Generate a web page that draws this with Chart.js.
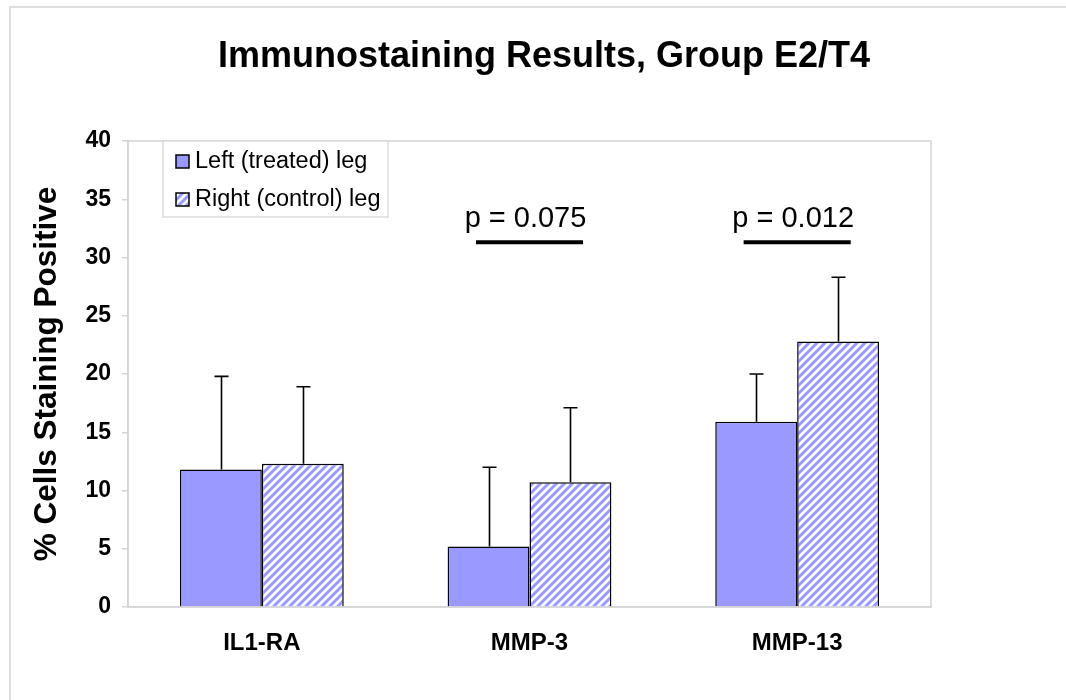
<!DOCTYPE html>
<html>
<head>
<meta charset="utf-8">
<script src="https://cdn.jsdelivr.net/npm/chart.js@4.4.1/dist/chart.umd.min.js"></script>
<style>
  html, body { margin: 0; padding: 0; background: #ffffff; }
  #wrap { width: 1066px; height: 700px; position: relative; }
</style>
</head>
<body>
<div id="wrap"><canvas id="c" width="1066" height="700"></canvas></div>
<script>
// ---- data ----
const categories = ['IL1-RA', 'MMP-3', 'MMP-13'];
const seriesNames = ['Left (treated) leg', 'Right (control) leg'];
const leftValues = [11.8, 5.2, 15.9];
const leftErrors = [8.0, 6.8, 4.1];
const rightValues = [12.3, 10.7, 22.8];
const rightErrors = [6.6, 6.4, 5.5];
const yTicks = [0, 5, 10, 15, 20, 25, 30, 35, 40];
const pLabels = ['', 'p = 0.075', 'p = 0.012'];
const pLineValue = 31.3;
const pTextValue = 33.3;
const titleText = 'Immunostaining Results, Group E2/T4';
const yTitleText = '% Cells Staining Positive';

// ---- styles ----
const BAR_BLUE = '#9999ff';
const FRAME_GRAY = '#d4d4d4';

function makeHatch() {
  const s = 8;
  const c = document.createElement('canvas');
  c.width = s; c.height = s;
  const g = c.getContext('2d');
  g.fillStyle = '#ffffff';
  g.fillRect(0, 0, s, s);
  g.strokeStyle = BAR_BLUE;
  g.lineWidth = 3.0;
  g.beginPath();
  g.moveTo(-s, 2 * s); g.lineTo(2 * s, -s);
  g.moveTo(-2 * s, 2 * s); g.lineTo(s, -s);
  g.moveTo(0, 2 * s); g.lineTo(3 * s, -s);
  g.stroke();
  return document.getElementById('c').getContext('2d').createPattern(c, 'repeat');
}
const hatch = makeHatch();

const errorSets = [leftErrors, rightErrors];

const decorPlugin = {
  id: 'decor',
  beforeDraw(chart) {
    const ctx = chart.ctx;
    ctx.save();
    ctx.fillStyle = '#ffffff';
    ctx.fillRect(0, 0, chart.width, chart.height);
    // outer slide frame
    ctx.strokeStyle = FRAME_GRAY;
    ctx.lineWidth = 1.5;
    ctx.beginPath();
    ctx.moveTo(10, chart.height);
    ctx.lineTo(10, 7);
    ctx.lineTo(chart.width, 7);
    ctx.stroke();
    // title
    ctx.fillStyle = '#000000';
    ctx.font = 'bold 36px "Liberation Sans", Arial, sans-serif';
    ctx.textAlign = 'center';
    ctx.textBaseline = 'middle';
    ctx.fillText(titleText, 544, 57);
    ctx.restore();
  },
  beforeDatasetsDraw(chart) {
    const a = chart.chartArea;
    const ctx = chart.ctx;
    ctx.save();
    ctx.strokeStyle = FRAME_GRAY;
    ctx.lineWidth = 1.5;
    ctx.strokeRect(a.left, a.top, a.right - a.left, a.bottom - a.top);
    ctx.restore();
  },
  afterDatasetsDraw(chart) {
    const ctx = chart.ctx;
    const y = chart.scales.y;
    const x = chart.scales.x;
    ctx.save();
    // error bars (upper only)
    ctx.strokeStyle = '#000000';
    ctx.lineWidth = 1.6;
    chart.data.datasets.forEach((ds, di) => {
      const meta = chart.getDatasetMeta(di);
      meta.data.forEach((bar, i) => {
        const top = y.getPixelForValue(ds.data[i] + errorSets[di][i]);
        const cx = Math.round(bar.x) + 0.5;
        ctx.beginPath();
        ctx.moveTo(cx, bar.y);
        ctx.lineTo(cx, top);
        ctx.moveTo(cx - 7, top);
        ctx.lineTo(cx + 7, top);
        ctx.stroke();
      });
    });
    // p-value annotations
    const catW = (x.right - x.left) / categories.length;
    pLabels.forEach((lbl, i) => {
      if (!lbl) return;
      const cx = x.getPixelForValue(i);
      const ly = y.getPixelForValue(pLineValue);
      ctx.lineWidth = 4;
      ctx.beginPath();
      ctx.moveTo(cx - catW * 0.2, ly);
      ctx.lineTo(cx + catW * 0.2, ly);
      ctx.stroke();
      ctx.fillStyle = '#000000';
      ctx.font = '29px "Liberation Sans", Arial, sans-serif';
      ctx.textAlign = 'center';
      ctx.textBaseline = 'middle';
      ctx.fillText(lbl, cx - 4, y.getPixelForValue(pTextValue));
    });
    // legend box inside plot area
    const a = chart.chartArea;
    const lx = a.left + 35, ly0 = a.top, lw = 225, lh = 76;
    ctx.fillStyle = '#ffffff';
    ctx.fillRect(lx, ly0, lw, lh);
    ctx.strokeStyle = FRAME_GRAY;
    ctx.lineWidth = 1.2;
    ctx.strokeRect(lx, ly0, lw, lh);
    chart.data.datasets.forEach((ds, di) => {
      const cy = ly0 + 20 + di * 38;
      ctx.fillStyle = ds.backgroundColor;
      ctx.fillRect(lx + 13, cy - 6, 13, 13);
      ctx.strokeStyle = '#000000';
      ctx.lineWidth = 1.5;
      ctx.strokeRect(lx + 13, cy - 6, 13, 13);
      ctx.fillStyle = '#000000';
      ctx.font = '23.5px "Liberation Sans", Arial, sans-serif';
      ctx.textAlign = 'left';
      ctx.textBaseline = 'middle';
      ctx.fillText(ds.label, lx + 32, cy + 1);
    });
    ctx.restore();
  }
};

new Chart(document.getElementById('c'), {
  type: 'bar',
  data: {
    labels: categories,
    datasets: [
      { label: seriesNames[0], data: leftValues, backgroundColor: BAR_BLUE, borderColor: '#000000', borderWidth: 1.5 },
      { label: seriesNames[1], data: rightValues, backgroundColor: hatch, borderColor: '#000000', borderWidth: 1.5 }
    ]
  },
  options: {
    responsive: false,
    animation: false,
    devicePixelRatio: 1,
    layout: { padding: { left: 10, right: 135, top: 141, bottom: 0 } },
    datasets: { bar: { categoryPercentage: 0.612, barPercentage: 1.0 } },
    plugins: {
      legend: { display: false },
      tooltip: { enabled: false },
      title: { display: false }
    },
    scales: {
      x: {
        grid: { display: false, drawTicks: false },
        border: { display: true, color: FRAME_GRAY, width: 1.5 },
        ticks: {
          color: '#000000',
          padding: 22,
          font: { family: '"Liberation Sans", Arial, sans-serif', size: 24, weight: 'bold' }
        },
        afterFit(s) { s.height = 93; }
      },
      y: {
        min: 0, max: 40,
        afterBuildTicks(s) { s.ticks = yTicks.map(v => ({ value: v })); },
        grid: { drawOnChartArea: false, drawTicks: true, tickLength: 6, color: FRAME_GRAY, lineWidth: 1.5 },
        border: { display: true, color: FRAME_GRAY, width: 1.5 },
        ticks: {
          color: '#000000',
          padding: 11,
          font: { family: '"Liberation Sans", Arial, sans-serif', size: 23, weight: 'bold' }
        },
        title: {
          display: true,
          text: yTitleText,
          color: '#000000',
          padding: { top: 18, bottom: 0 },
          font: { family: '"Liberation Sans", Arial, sans-serif', size: 31.5, weight: 'bold' }
        },
        afterFit(s) { s.width = 118; }
      }
    }
  },
  plugins: [decorPlugin]
});
</script>
</body>
</html>
